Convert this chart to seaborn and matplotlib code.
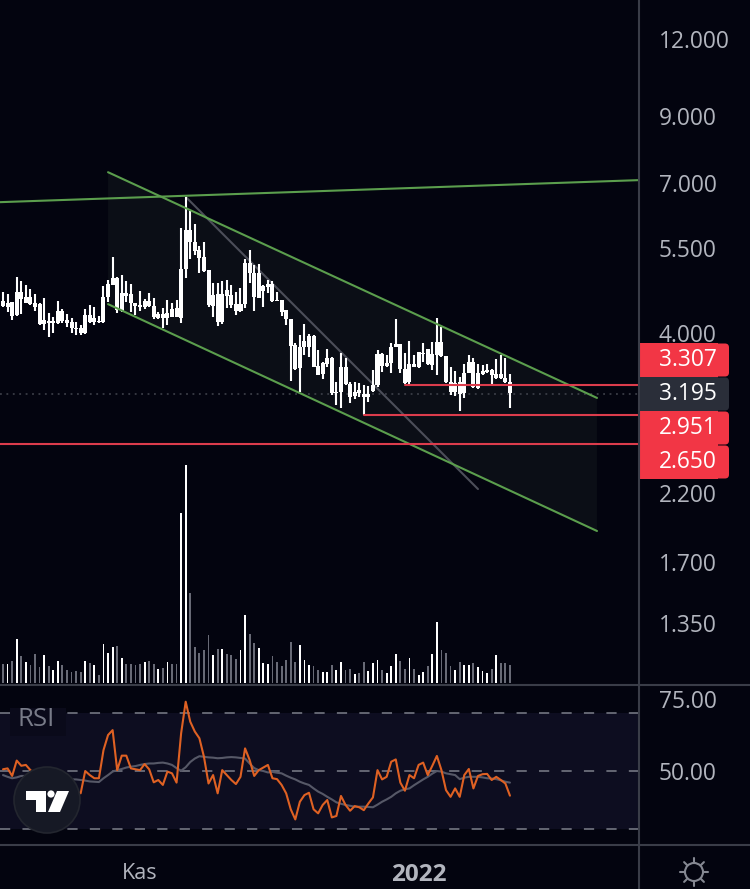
import numpy as np
import pandas as pd
import matplotlib
matplotlib.use("Agg")
import matplotlib.pyplot as plt
import seaborn as sns
from matplotlib.patches import Circle, FancyBboxPatch, Polygon, Rectangle

# candles, one per day (price scale with dot as thousands)
high = [4655, 4625, 4495, 4923, 4855, 4783, 4712, 4625, 4466, 4563,
        4314, 4250, 4506, 4373, 4293, 4223, 4160, 4120, 4368, 4438,
        4400, 4266, 4765, 4885, 5318, 4923, 4965, 4855, 4800, 4466,
        4678, 4535, 4649, 4552, 4330, 4384, 4523, 4466, 4523, 5927,
        6640, 6316, 6010, 5535, 5618, 5059, 4825, 4825, 4860, 4873,
        4783, 4666, 4724, 5265, 5465, 5155, 5168, 4783, 4873, 4855,
        4666, 4523, 4357, 4208, 3856, 3968, 4135, 3978, 3968, 3751,
        3591, 3765, 3650, 3333, 3705, 3636, 3333, 3325, 3320, 3291,
        3279, 3481, 3751, 3705, 3682, 3846, 4208, 3832, 3714, 3880,
        3682, 3728, 3846, 3765, 3870, 4223, 4083, 3673, 3516, 3472,
        3396, 3556, 3682, 3636, 3560, 3547, 3560, 3490, 3622, 3682,
        3645, 3430]
body_top = [4505, 4477, 4483, 4666, 4666, 4580, 4569, 4477, 4455, 4197,
            4187, 4182, 4341, 4346, 4197, 4171, 4078, 4068, 4277, 4277,
            4223, 4187, 4580, 4812, 4905, 4917, 4637, 4649, 4625, 4466,
            4438, 4512, 4512, 4427, 4293, 4293, 4303, 4373, 4384, 5090,
            5875, 5875, 5625, 5452, 5305, 5059, 4609, 4625, 4625, 4695,
            4609, 4455, 4455, 5187, 5187, 4997, 4997, 4765, 4812, 4812,
            4523, 4523, 4357, 4208, 3822, 3789, 3885, 3953, 3953, 3534,
            3569, 3636, 3636, 3211, 3525, 3516, 3304, 3211, 3231, 3183,
            3183, 3291, 3696, 3696, 3569, 3798, 3837, 3832, 3490, 3560,
            3560, 3728, 3714, 3765, 3696, 3870, 3870, 3668, 3333, 3312,
            3333, 3447, 3591, 3591, 3438, 3472, 3481, 3481, 3426, 3426,
            3375, 3333]
body_bot = [4420, 4411, 4260, 4271, 4540, 4477, 4455, 4411, 4130, 4130,
            4145, 4145, 4155, 4182, 4145, 4068, 4053, 3993, 3993, 4171,
            4171, 4166, 4171, 4569, 4794, 4357, 4346, 4592, 4466, 4422,
            4400, 4411, 4422, 4240, 4223, 4223, 4223, 4240, 4240, 4234,
            5090, 5611, 5432, 5285, 5040, 4438, 4427, 4160, 4171, 4592,
            4438, 4346, 4346, 4455, 4997, 4569, 4552, 4678, 4742, 4512,
            4506, 4330, 4208, 3808, 3494, 3503, 3789, 3798, 3525, 3417,
            3430, 3560, 3199, 3191, 3211, 3304, 3151, 3163, 3191, 3143,
            3151, 3223, 3291, 3534, 3534, 3569, 3798, 3490, 3312, 3333,
            3516, 3516, 3696, 3560, 3547, 3682, 3668, 3333, 3211, 3211,
            3183, 3191, 3447, 3263, 3251, 3430, 3460, 3417, 3375, 3375,
            3325, 3191]
low = [4410, 4330, 4197, 4260, 4288, 4477, 4438, 4346, 4120, 4043,
       3943, 4003, 4130, 4145, 4083, 3993, 3968, 3968, 3978, 4155,
       4120, 4155, 4145, 4495, 4794, 4303, 4330, 4495, 4330, 4277,
       4346, 4368, 4400, 4208, 4208, 4068, 4120, 4240, 4240, 4155,
       4905, 5272, 5351, 5010, 5028, 4400, 4250, 4104, 4130, 4384,
       4384, 4277, 4330, 4384, 4825, 4346, 4552, 4400, 4637, 4495,
       4506, 4266, 4120, 3345, 3481, 3203, 3682, 3659, 3516, 3417,
       3362, 3525, 3171, 3055, 3017, 3291, 3082, 3120, 3151, 2942,
       3093, 3211, 3263, 3451, 3525, 3447, 3789, 3447, 3300, 3291,
       3516, 3503, 3591, 3547, 3481, 3417, 3659, 3312, 3171, 3163,
       2990, 3132, 3447, 3251, 3239, 3417, 3447, 3291, 3362, 3362,
       3320, 3025]

# volume bars, thousands, and whether the bar is white (w) or grey (g)
volume = [58, 56, 65, 133, 80, 62, 53, 86, 47, 83,
          50, 39, 65, 53, 39, 32, 35, 32, 65, 59,
          53, 23, 116, 89, 107, 110, 74, 56, 56, 53,
          56, 62, 65, 56, 41, 44, 62, 56, 56, 510,
          654, 270, 107, 89, 98, 143, 83, 101, 101, 86,
          83, 71, 98, 203, 146, 119, 104, 59, 56, 80,
          62, 50, 68, 122, 62, 113, 68, 53, 50, 38,
          32, 32, 53, 38, 62, 38, 41, 26, 29, 62,
          35, 59, 68, 38, 29, 50, 86, 65, 41, 74,
          41, 23, 32, 50, 86, 182, 98, 89, 50, 38,
          62, 53, 53, 59, 47, 35, 29, 41, 83, 59,
          59, 53]
volume_dir = list("gwgwgwgggw" "gwwgggggwg" "wgwwwgwggg" "gwggwgwggw"
                  "wgggggwgwg" "ggwwggwwwg" "gggggwwwgg" "wwgwwggwgg"
                  "wwwgwwwggw" "gwwgwwgggw" "gwwgwwwgwg" "gg")

rsi = [50.6, 50.9, 48.3, 53.6, 51.8, 52.1, 50.3, 49.2, 47.5, 46.3,
       45.7, 45.2, 44.6, 46.3, 45.7, 44.6, 42.9, 42.3, 50.0, 48.6,
       47.5, 47.5, 57.2, 62.4, 64.1, 50.3, 55.3, 55.3, 50.9, 50.6,
       50.3, 52.4, 50.6, 46.1, 46.9, 45.2, 49.8, 49.2, 46.0, 63.0,
       73.9, 67.0, 63.6, 61.3, 54.9, 45.7, 48.6, 42.3, 50.3, 48.6,
       46.9, 45.5, 48.0, 57.8, 53.8, 48.3, 50.3, 51.2, 52.1, 47.5,
       47.2, 45.2, 42.3, 36.8, 33.3, 39.4, 41.7, 42.5, 36.8, 35.4,
       38.3, 40.0, 34.0, 34.5, 41.4, 38.3, 36.3, 37.9, 37.5, 36.5,
       38.8, 40.9, 50.3, 47.1, 48.0, 53.2, 54.0, 46.0, 43.2, 48.6,
       47.5, 52.1, 52.9, 48.6, 51.8, 55.2, 50.3, 43.4, 41.1, 44.0,
       41.1, 48.6, 50.7, 44.0, 48.3, 48.9, 49.0, 46.9, 48.0, 46.9,
       45.7, 41.5]
rsi_ma = [48.6, 48.0, 47.5, 47.8, 48.3, 48.3, 48.5, 48.5, 48.7, 48.6,
          48.3, 48.0, 47.8, 47.6, 47.4, 47.1, 47.1, 46.9, 46.7, 46.4,
          46.3, 46.2, 47.5, 48.6, 49.8, 50.3, 50.7, 51.2, 51.5, 51.7,
          52.1, 52.4, 52.6, 52.6, 52.8, 52.9, 52.6, 52.1, 51.0, 50.1,
          51.3, 53.1, 54.3, 55.1, 54.9, 54.7, 54.6, 54.4, 54.5, 54.7,
          54.8, 54.7, 54.5, 54.3, 52.6, 51.0, 50.3, 50.0, 49.5, 49.7,
          49.4, 49.2, 48.4, 47.7, 47.1, 46.3, 45.7, 45.2, 44.0, 42.9,
          42.1, 41.1, 40.2, 39.2, 38.7, 38.3, 38.0, 37.7, 37.7, 37.7,
          37.6, 37.5, 38.4, 39.4, 40.2, 41.1, 42.3, 43.2, 43.7, 44.0,
          45.1, 46.1, 47.1, 48.0, 49.1, 50.0, 49.8, 49.2, 48.9, 48.6,
          47.2, 47.7, 48.0, 48.0, 48.0, 47.8, 47.5, 47.4, 47.2, 46.8,
          46.3, 46.0]

# drawn trend lines: bar index and price at both ends
top_line_x, top_line_y = [-0.66, 139.04], [6525, 7085]
chan_x = [23, 130.06]
chan_upper = [7299, 3136]
chan_lower = [4455, 1906]
grey_x, grey_y = [40.07, 104], [6648, 2230]
level_start = {3295: 88, 2945: 79, 2640: -0.66}
last_price = 3185

price_ticks = [12000, 9000, 7000, 5500, 4000, 2200, 1700, 1350]
rsi_ticks = [75, 50]
date_ticks = [30, 91]
date_labels = ["Kas", "2022"]
price_tags = [("3.307", "#f23645"), ("3.195", "#2a2e39"), ("2.951", "#f23645"), ("2.650", "#f23645")]

BG = "#03040f"
GRID = "#3a3d48"
TEXT = "#b2b5be"
GREEN = "#5b9e4d"
RED = "#dc3c4c"
W, H = 750, 889
XMIN, XMAX = -0.66, 139.04

sns.set_style("dark", {"axes.facecolor": BG, "figure.facecolor": BG})
plt.rcParams["font.family"] = ["Open Sans", "DejaVu Sans"]


def px_axes(fig, top, bottom):
    return fig.add_axes([0, 1 - bottom / H, 638 / W, (bottom - top) / H])


idx = np.arange(len(high))
candles = pd.DataFrame({"idx": idx, "high": high, "low": low, "top": body_top, "bot": body_bot})
vol = pd.DataFrame({"idx": idx, "volume": volume, "dir": volume_dir})
osc = pd.DataFrame({"idx": idx, "rsi": rsi, "ma": rsi_ma})

fig = plt.figure(figsize=(W / 100, H / 100), dpi=100, facecolor=BG)
ax = px_axes(fig, 0, 684)
ax_rsi = px_axes(fig, 685, 844)
ax_vol = px_axes(fig, 440, 683)
ax_vol.patch.set_alpha(0)

# price panel
ax.set_yscale("log")
ax.fill(chan_x + chan_x[::-1], chan_upper + chan_lower[::-1], color="#0b0e16", lw=0, zorder=1)
ax.vlines(candles["idx"], candles["low"], candles["high"], color="white", lw=1.5, zorder=3)
ax.bar(candles["idx"], candles["top"] - candles["bot"], bottom=candles["bot"], width=0.88,
       color="white", edgecolor="none", lw=0, zorder=3)
ax.axhline(last_price, color="#43464f", lw=1.1, ls=(0, (1.2, 3)), zorder=2)

sns.lineplot(x=top_line_x, y=top_line_y, color=GREEN, lw=1.5, ax=ax, zorder=4)
sns.lineplot(x=chan_x, y=chan_upper, color=GREEN, lw=1.5, ax=ax, zorder=4)
sns.lineplot(x=chan_x, y=chan_lower, color=GREEN, lw=1.5, ax=ax, zorder=4)
sns.lineplot(x=grey_x, y=grey_y, color="#4c4e59", lw=1.5, ax=ax, zorder=2)
for level, start in level_start.items():
    sns.lineplot(x=[start, XMAX], y=[level, level], color=RED, lw=1.5, ax=ax, zorder=4)

ax.set_xlim(XMIN, XMAX)
ax.set_ylim(1075, 13905)
ax.set_xticks([])
ax.minorticks_off()
ax.set_yticks(price_ticks)
ax.set_yticklabels([f"{t:,}".replace(",", ".") for t in price_ticks])
ax.yaxis.tick_right()
ax.tick_params(axis="y", length=0, pad=15, labelsize=16.4, colors=TEXT)
ax.set_xlabel("")
ax.set_ylabel("")

# volume
sns.barplot(data=vol, x="idx", y="volume", hue="dir", palette={"w": "white", "g": "#686a76"},
            dodge=False, native_scale=True, width=0.4, saturation=1, errorbar=None,
            linewidth=0, edgecolor="none", legend=False, ax=ax_vol)
ax_vol.set_xlim(XMIN, XMAX)
ax_vol.set_ylim(0, 729)
ax_vol.axis("off")

# rsi panel
ax_rsi.axhspan(30, 70, color="#0d0d20", lw=0, zorder=0)
for level in [70, 50, 30]:
    ax_rsi.axhline(level, color="#7c7f8a", lw=1.1, ls=(0, (6.7, 8)), zorder=1)
sns.lineplot(data=osc, x="idx", y="ma", color="#565867", lw=1.5, ax=ax_rsi, zorder=2)
sns.lineplot(data=osc, x="idx", y="rsi", color="#df6123", lw=1.5, ax=ax_rsi, zorder=3)
ax_rsi.set_xlim(XMIN, XMAX)
ax_rsi.set_ylim(24.83, 79.66)
ax_rsi.set_yticks(rsi_ticks)
ax_rsi.set_yticklabels([f"{t:.2f}" for t in rsi_ticks])
ax_rsi.yaxis.tick_right()
ax_rsi.tick_params(axis="y", length=0, pad=15, labelsize=16.4, colors=TEXT)
ax_rsi.set_xticks(date_ticks)
ax_rsi.set_xticklabels(date_labels)
ax_rsi.tick_params(axis="x", length=0, pad=14, labelsize=15.5, colors=TEXT)
ax_rsi.get_xticklabels()[1].set_fontweight("bold")
ax_rsi.get_xticklabels()[1].set_fontsize(17.5)
ax_rsi.set_xlabel("")
ax_rsi.set_ylabel("")

for a in (ax, ax_rsi):
    for s in a.spines.values():
        s.set_visible(False)

# interface bits in pixel coordinates
ui = fig.add_axes([0, 0, 1, 1], zorder=10)
ui.set_xlim(0, W)
ui.set_ylim(H, 0)
ui.axis("off")
ui.patch.set_alpha(0)
ui.plot([0, W], [684.5, 684.5], color=GRID, lw=1.5)
ui.plot([0, W], [844.5, 844.5], color=GRID, lw=1.5)
ui.plot([638.5, 638.5], [0, H], color=GRID, lw=1.5)
ui.add_patch(Rectangle((10, 708), 56, 28, color="#0a0a1a", lw=0))
ui.text(18, 720, "RSI", fontsize=18.5, color="#787b88", va="center", ha="left")

for k, (label, colour) in enumerate(price_tags):
    y0 = 343 + 34 * k
    ui.add_patch(Rectangle((638, y0), 80, 34, color=colour, lw=0))
    ui.add_patch(FancyBboxPatch((704, y0 + 0.5), 25, 33, boxstyle="round,pad=0,rounding_size=4",
                                color=colour, lw=0))
    ui.text(688, y0 + 17, label, fontsize=16.4, color="white", ha="center", va="center")

# tradingview badge
ui.add_patch(Circle((47, 800), 33, facecolor="#161925", edgecolor="#23262f", lw=1.2))
ui.add_patch(Polygon([(26, 791), (46, 791), (46, 812), (36, 812), (36, 800), (26, 800)], color="white", lw=0))
ui.add_patch(Circle((51, 794), 3.6, color="white", lw=0))
ui.add_patch(Polygon([(57, 791), (69, 791), (60, 812), (48, 812)], color="white", lw=0))

# settings sun
ui.add_patch(Circle((694, 872), 9, facecolor="none", edgecolor="#858892", lw=1.5))
for ang in np.arange(0, 360, 45):
    c, s = np.cos(np.radians(ang)), np.sin(np.radians(ang))
    ui.plot([694 + 10 * c, 694 + 14 * c], [872 + 10 * s, 872 + 14 * s], color="#858892", lw=1.5)

fig.savefig("out.png", dpi=100, facecolor=BG)
plt.close(fig)
